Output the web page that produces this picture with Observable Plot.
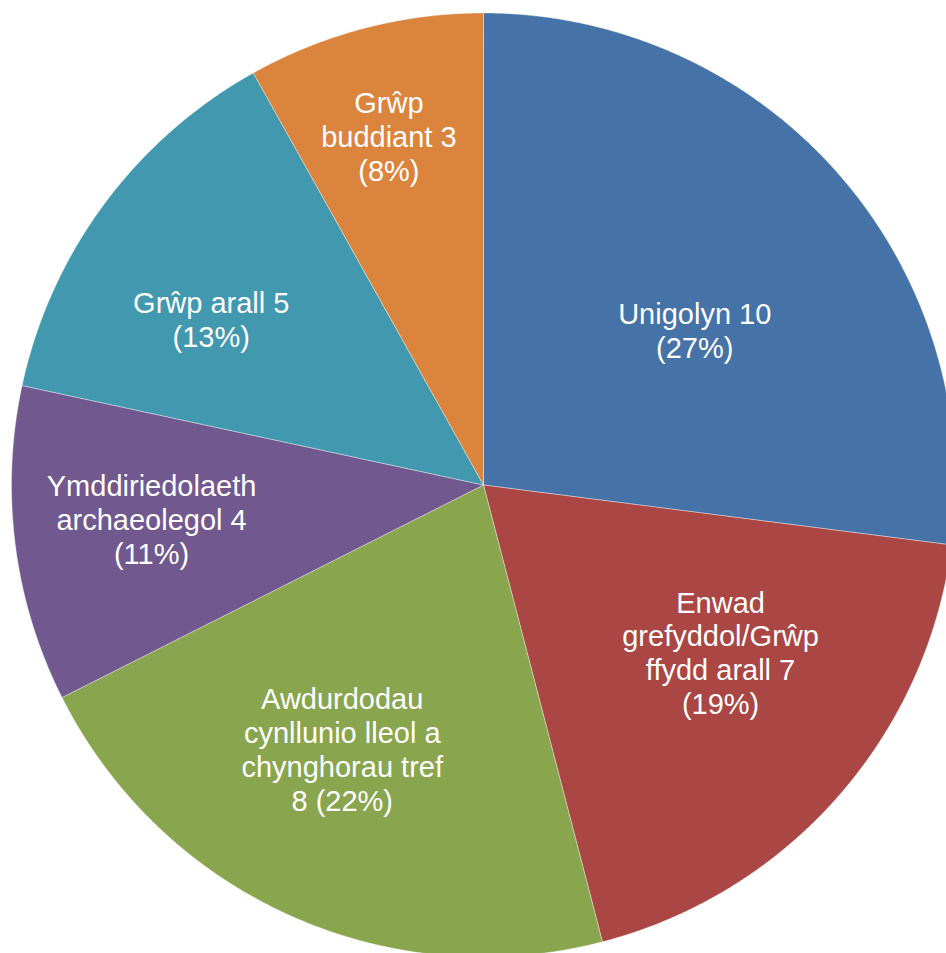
<!DOCTYPE html>
<html>
<head>
<meta charset="utf-8">
<script src="https://cdn.jsdelivr.net/npm/d3@7"></script>
<script src="https://cdn.jsdelivr.net/npm/@observablehq/plot@0.6"></script>
<style>
  html, body { margin: 0; padding: 0; background: #fff; overflow: hidden; }
</style>
</head>
<body>
<div id="chart"></div>
<script>
// ---- data ----
const categories = [
  "Unigolyn",
  "Enwad\ngrefyddol/Grŵp\nffydd arall",
  "Awdurdodau\ncynllunio lleol a\nchynghorau tref",
  "Ymddiriedolaeth\narchaeolegol",
  "Grŵp arall",
  "Grŵp\nbuddiant"
];
const values = [10, 7, 8, 4, 5, 3];
const percents = [27, 19, 22, 11, 13, 8];
const colors = ["#4572A7", "#AA4643", "#89A54E", "#71588F", "#4198AF", "#DB843D"];
// label wrapping separators (before value, before percent)
const valueSep = [" ", " ", "\n", " ", " ", " "];
const pctSep = ["\n", "\n", " ", "\n", "\n", "\n"];
// "best fit" label placement: distance (fraction of radius) and angular nudge (deg) from mid-angle
const labelRadius = [0.555, 0.615, 0.635, 0.707, 0.675, 0.765];
const labelAngleShift = [5.1, -6.1, 3.8, 1.4, -5.2, -0.6];

// ---- layout ----
const W = 946, H = 953;
const cx = 483, cy = 484.5, R = 472;

const arcs = d3.pie().sort(null).value(d => d)(values);

// slice outlines as polygons in unit-circle space
const slicePts = [];
arcs.forEach((a, i) => {
  const n = Math.max(8, Math.ceil((a.endAngle - a.startAngle) / (Math.PI / 720)));
  slicePts.push({k: i, x: 0, y: 0});
  for (let j = 0; j <= n; j++) {
    const t = a.startAngle + (a.endAngle - a.startAngle) * j / n;
    slicePts.push({k: i, x: Math.sin(t), y: Math.cos(t)});
  }
  slicePts.push({k: i, x: 0, y: 0});
});

const labels = arcs.map((a, i) => {
  const m = (a.startAngle + a.endAngle) / 2 + labelAngleShift[i] * Math.PI / 180;
  const f = labelRadius[i];
  return {
    k: i,
    x: f * Math.sin(m),
    y: f * Math.cos(m),
    text: categories[i] + valueSep[i] + values[i] + pctSep[i] + "(" + percents[i] + "%)"
  };
});

const chart = Plot.plot({
  width: W,
  height: H,
  margin: 0,
  x: {domain: [-1, 1], range: [cx - R, cx + R], axis: null},
  y: {domain: [-1, 1], range: [cy + R, cy - R], axis: null},
  color: {domain: d3.range(categories.length), range: colors},
  style: {background: "#fff", overflow: "hidden"},
  marks: [
    Plot.line(slicePts, {
      x: "x", y: "y", z: "k",
      fill: "k",
      stroke: "#fff", strokeWidth: 0.6, strokeOpacity: 0.6,
      curve: "linear"
    }),
    Plot.text(labels, {
      x: "x", y: "y", text: "text",
      fill: "#fff",
      fontSize: 29,
      fontFamily: "'Liberation Sans', Arial, sans-serif",
      lineHeight: 1.17,
      textAnchor: "middle",
      lineAnchor: "middle"
    })
  ]
});
document.getElementById("chart").appendChild(chart);
</script>
</body>
</html>
